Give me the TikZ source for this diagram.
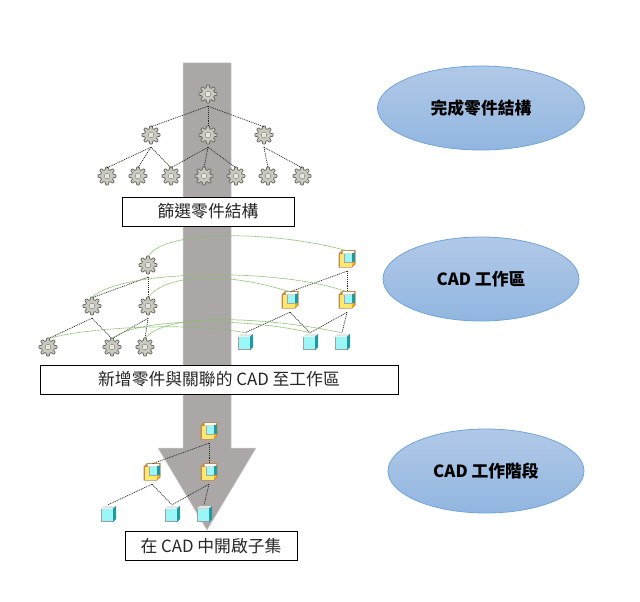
\documentclass[tikz,border=0pt]{standalone}
\usepackage{fontspec}
\usetikzlibrary{shapes.geometric}
\newfontfamily\cjk{Noto Sans CJK TC}
\definecolor{arrowgrey}{HTML}{ABA7A7}
\definecolor{elltop}{HTML}{B1C9E8}
\definecolor{ellbot}{HTML}{92B6E0}
\definecolor{ellline}{HTML}{6FA5DA}
\definecolor{arcgreen}{HTML}{86C06A}
\definecolor{cubecyan}{HTML}{9BF6F8}
\definecolor{cubeteal}{HTML}{1E9AA0}
\definecolor{asmyellow}{HTML}{FFE86E}
\definecolor{asmedge}{HTML}{C08A50}
\definecolor{gearbody}{HTML}{C9C9BC}
\tikzset{
  x=1pt,y=-1pt,
  flowarrow/.style={fill=arrowgrey,draw=arrowgrey!60!white,line width=0.5pt},
  labelbox/.style={draw=black,fill=white,line width=0.9pt,font=\cjk\fontsize{16.8}{19}\selectfont,text=black!85,inner sep=0pt,minimum height=29pt},
  stagebubble/.style={ellipse,draw=ellline,line width=0.8pt,top color=elltop,bottom color=ellbot,font=\cjk\bfseries\fontsize{16.8}{19}\selectfont,inner sep=0pt},
  anchorbox/.style={inner sep=0pt,minimum width=8pt,minimum height=20pt},
  link/.style={black!85,line width=0.7pt,dash pattern=on 1pt off 0.9pt},
  assoc/.style={arcgreen,line width=0.7pt,dash pattern=on 1pt off 0.5pt},
  gearicon/.pic={
    \draw[fill=gearbody,draw=black!62,line width=0.7pt]
      plot[domain=0:360,samples=121,smooth cycle] (\x:{7.8+1.3*max(-1,min(1,2*cos(8*\x)))});
    \fill[black!40] (0,0) circle (3.2);
    \fill[white!90!black] (-1.6,-1.6) rectangle (1.6,1.6);
  },
  cubeicon/.pic={
    \fill[black!38] (-7.5,-5) rectangle (6,8);
    \fill[black!10] (-7,-5.5) -- (-4,-8) -- (8,-8) -- (5,-5.5) -- cycle;
    \fill[cubeteal] (5,-5.5) -- (8,-8) -- (8,5) -- (5,8) -- cycle;
    \fill[cubecyan] (-6.2,-4.6) rectangle (4.8,6.6);
  },
  asmicon/.pic={
    \fill[asmedge] (-8.5,-5.5) -- (-5,-9) -- (8.5,-9) -- (8.5,5) -- (5,8.5) -- (-8.5,8.5) -- cycle;
    \fill[asmyellow] (-7.5,-5) rectangle (4.8,7.5);
    \fill[white] (-4.5,-8) -- (7.5,-8) -- (6,-5.5) -- (-4.5,-5.5) -- cycle;
    \fill[black!35] (-3.2,-5.5) rectangle (5.5,3.5);
    \fill[cubecyan] (-2.2,-5) rectangle (4.8,2.6);
    \fill[cubeteal] (4.8,-6) rectangle (7.5,3);
    \fill[orange!55!yellow] (4.8,3.5) -- (7.5,3.5) -- (7.5,4.5) -- (4.8,7.5) -- cycle;
  }
}
\begin{document}
\begin{tikzpicture}
\useasboundingbox (0,0) rectangle (640,602);
\fill[white] (0,0) rectangle (640,602);
% flow arrow
\draw[flowarrow] (183,63) -- (231,63) -- (231,448) -- (256,448) -- (207,530) -- (158,448) -- (183,448) -- cycle;
% stage ellipses
\node[stagebubble,minimum width=207pt,minimum height=84pt] (stageA) at (481,108) {完成零件結構};
\node[stagebubble,minimum width=196pt,minimum height=84pt] (stageB) at (481,279) {CAD 工作區};
\node[stagebubble,minimum width=196pt,minimum height=84pt] (stageC) at (486,471) {CAD 工作階段};
% label boxes
\node[labelbox,minimum width=172pt] (boxA) at (208,211.5) {篩選零件結構};
\node[labelbox,minimum width=358pt] (boxB) at (219,379.5) {新增零件與關聯的 CAD 至工作區};
\node[labelbox,minimum width=172pt] (boxC) at (211,546) {在 CAD 中開啟子集};
% gears
\foreach \n/\px/\py in {a0/208/94,a1/151/135,a2/208/135,a3/264/135,
  l1/107/176,l2/138/176,l3/171/176,l4/204/176,l5/236/176,l6/268/176,l7/302/176,
  b0/148/265,b1/92/306,b2/148/306,m1/48/347,m2/112/347,m3/145/347}{
  \node[anchorbox] (\n) at (\px,{\py+2}) {};
  \pic at (\px,\py) {gearicon};
}
% assemblies
\foreach \n/\px/\py in {p0/347/259,p1/290/300,p2/347/300,t0/209/431,t1/152/472,t2/209/472}{
  \node[anchorbox] (\n) at (\px,{\py+2}) {};
  \pic at (\px,\py) {asmicon};
}
% cubes
\foreach \n/\px/\py in {c1/245/342,c2/310/342,c3/342/342,d1/108/514,d2/172/514,d3/204/514}{
  \node[anchorbox] (\n) at (\px,{\py+1}) {};
  \pic at (\px,\py) {cubeicon};
}
% structure links
\foreach \u/\v in {a0/a1,a0/a2,a0/a3,a1/l1,a1/l2,a1/l3,a2/l3,a2/l4,a2/l5,a3/l6,a3/l7,
  b0/b1,b0/b2,b1/m1,b1/m2,b2/m2,b2/m3,
  p0/p1,p0/p2,p1/c1,p1/c2,p2/c2,p2/c3,
  t0/t1,t0/t2,t1/d1,t1/d2,t2/d2,t2/d3}{
  \draw[link] (\u.south) -- (\v.north);
}
% associations
\draw[assoc] (b0.north) .. controls +(15,-28) and +(-70,-20) .. (p0.north);
\draw[assoc] (b1.north) .. controls +(25,-28) and +(-70,-25) .. (p2.north);
\draw[assoc] (b2.north) .. controls +(15,-22) and +(-70,-22) .. (p1.north);
\draw[assoc] (m1.north) .. controls +(30,-10) and +(-60,-12) .. (c1.north);
\draw[assoc] (m2.north) .. controls +(25,-22) and +(-60,-15) .. (c2.north);
\draw[assoc] (m3.north) .. controls +(20,-28) and +(-70,-15) .. (c3.north);
\end{tikzpicture}
\end{document}
